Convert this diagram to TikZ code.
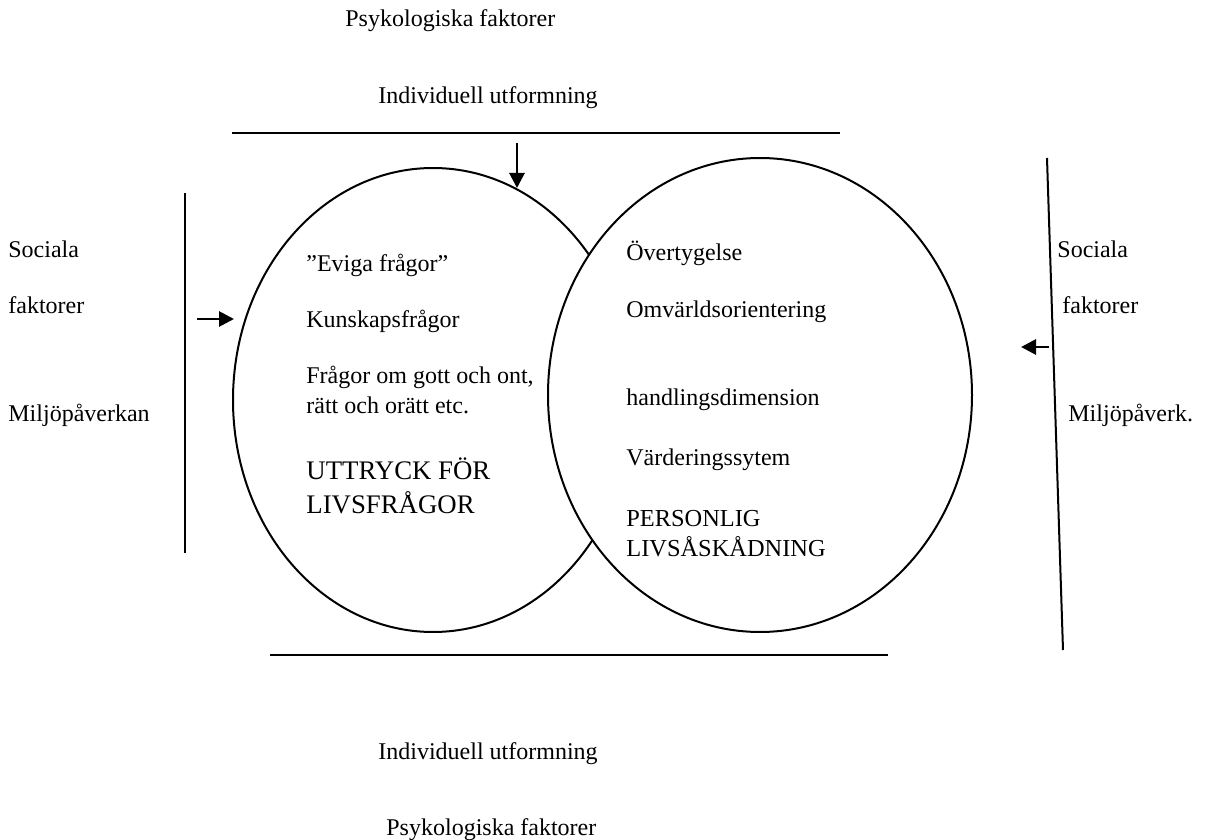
\documentclass[tikz,border=0pt]{standalone}
\usepackage{fontspec}
\setmainfont{Liberation Serif}
\usetikzlibrary{arrows.meta, shapes.geometric}
\tikzset{
  frameline/.style = {line width=1pt, black},
  pusharrow/.style = {-{Triangle[length=7.5pt, width=7.5pt]}, line width=1.4pt},
  oval/.style      = {ellipse, draw, line width=1pt, inner sep=0pt},
  lbl/.style       = {anchor=base west, inner sep=0pt, font=\fontsize{12}{15}\selectfont},
  capslbl/.style   = {lbl, font=\fontsize{13.4}{17}\selectfont},
}

\begin{document}
\begin{tikzpicture}[x=0.5pt,y=-0.5pt]
  \useasboundingbox (0,0) rectangle (1212,840);
  % ovals (right one covers the left)
  \node[oval, minimum width=200pt, minimum height=232pt] (livsfr) at (433,400) {};
  \node[oval, fill=white, minimum width=212pt, minimum height=237pt] (livsask) at (760,395) {};
  % frame lines
  \coordinate (topL) at (232,133);  \coordinate (topR) at (840,133);
  \coordinate (botL) at (270,655);  \coordinate (botR) at (888,655);
  \coordinate (leftT) at (185,193); \coordinate (leftB) at (185,553);
  \coordinate (rightT) at (1047,158); \coordinate (rightB) at (1063,650);
  \draw[frameline] (topL) -- (topR);
  \draw[frameline] (botL) -- (botR);
  \draw[frameline] (leftT) -- (leftB);
  \draw[frameline] (rightT) -- (rightB);
  % arrows
  \coordinate (downS) at (517,143);  \coordinate (downE) at (517,188);
  \coordinate (inS) at (197,319);    \coordinate (inE) at (234,319);
  \coordinate (backS) at (1049,347); \coordinate (backE) at (1021,347);
  \draw[pusharrow] (downS) -- (downE);
  \draw[pusharrow] (inS) -- (inE);
  \draw[pusharrow] (backS) -- (backE);
  % top and bottom texts
  \node[lbl] (psykTop) at (345,27) {Psykologiska faktorer};
  \node[lbl] (indivTop) at (378,104) {Individuell utformning};
  \node[lbl] (indivBot) at (378,759) {Individuell utformning};
  \node[lbl] (psykBot) at (386,835) {Psykologiska faktorer};
  % left side
  \node[lbl] (socialaV) at (8,257) {Sociala};
  \node[lbl] (faktorerV) at (8,314) {faktorer};
  \node[lbl] (miljoV) at (8,421) {Miljöpåverkan};
  % right side
  \node[lbl] (socialaH) at (1057,257) {Sociala};
  \node[lbl] (faktorerH) at (1062,314) {faktorer};
  \node[lbl] (miljoH) at (1068,421) {Miljöpåverk.};
  % inside left oval
  \node[lbl] (evig) at (306,271) {”Eviga frågor”};
  \node[lbl] (kunskap) at (306,328) {Kunskapsfrågor};
  \node[lbl] (gottont) at (306,383) {Frågor om gott och ont,};
  \node[lbl] (rattfel) at (306,413) {rätt och orätt etc.};
  \node[capslbl] (uttryck) at (306,479) {UTTRYCK FÖR};
  \node[capslbl] (livsfraga) at (306,513) {LIVSFRÅGOR};
  % inside right oval
  \node[lbl] (overtyg) at (626,261) {Övertygelse};
  \node[lbl] (omvarld) at (626,318) {Omvärldsorientering};
  \node[lbl] (handling) at (626,405) {handlingsdimension};
  \node[lbl] (varde) at (626,466) {Värderingssytem};
  \node[lbl, font=\fontsize{12.2}{15}\selectfont] (personlig) at (626,526) {PERSONLIG};
  \node[lbl, font=\fontsize{12.2}{15}\selectfont] (livsaskad) at (626,556) {LIVSÅSKÅDNING};
\end{tikzpicture}
\end{document}
